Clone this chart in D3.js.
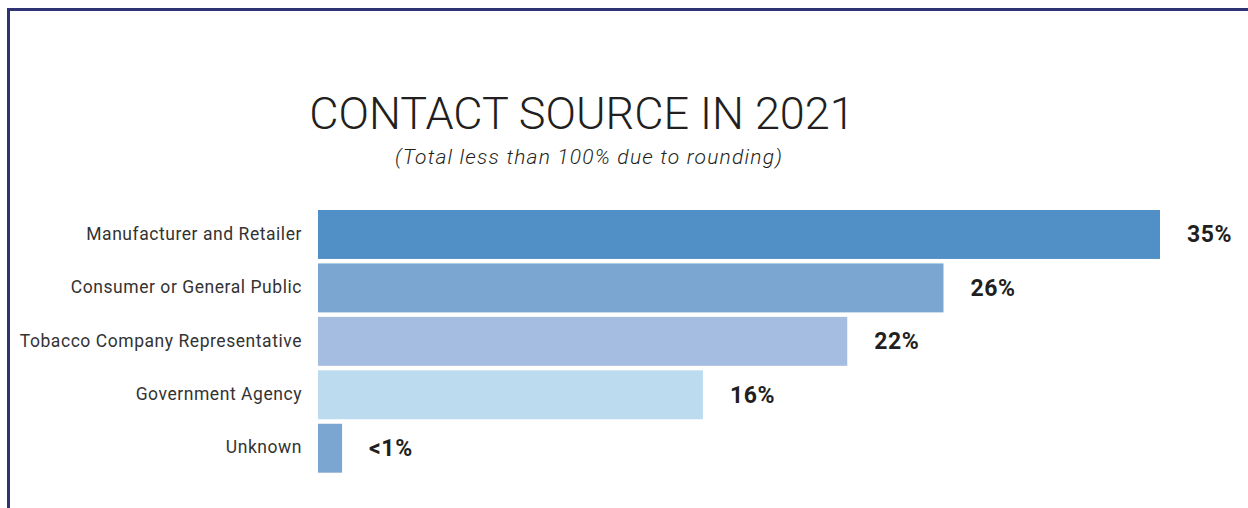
<!DOCTYPE html>
<html>
<head>
<meta charset="utf-8">
<script src="https://cdn.jsdelivr.net/npm/d3@7"></script>
<style>
  html, body { margin: 0; padding: 0; background: #fff; }
  svg { display: block; }
</style>
</head>
<body>
<svg width="1248" height="508"></svg>
<script>
const categories = [
  "Manufacturer and Retailer",
  "Consumer or General Public",
  "Tobacco Company Representative",
  "Government Agency",
  "Unknown"
];
const values = [35, 26, 22, 16, 1];
const valueLabels = ["35%", "26%", "22%", "16%", "<1%"];
const barColors = ["#5190c7", "#7ba6d1", "#a5bde0", "#bddbef", "#7ba6d1"];

const title = "CONTACT SOURCE IN 2021";
const subtitle = "(Total less than 100% due to rounding)";

const width = 1248;
const height = 508;
const font = "Roboto, 'Noto Sans', sans-serif";

const svg = d3.select("svg");

// frame (top + left rule)
svg.append("path")
  .attr("d", `M8.5,${height} L8.5,9.5 L${width},9.5`)
  .attr("fill", "none")
  .attr("stroke", "#2d3373")
  .attr("stroke-width", 3);

// title
svg.append("text")
  .attr("x", 582)
  .attr("y", 129)
  .attr("text-anchor", "middle")
  .attr("font-family", font)
  .attr("font-weight", 300)
  .attr("font-size", 45)
  .attr("fill", "#231f20")
  .text(title);

svg.append("text")
  .attr("x", 589)
  .attr("y", 164)
  .attr("text-anchor", "middle")
  .attr("font-family", font)
  .attr("font-weight", 300)
  .attr("font-style", "italic")
  .attr("font-size", 21)
  .attr("letter-spacing", 1.2)
  .attr("fill", "#231f20")
  .text(subtitle);

// scales
const x = d3.scaleLinear()
  .domain([0, 35])
  .range([318, 1160]);

const y = d3.scaleBand()
  .domain(categories)
  .range([210, 472.7])
  .paddingInner(0.084)
  .paddingOuter(0);

// bars
svg.selectAll("rect.bar")
  .data(values)
  .enter()
  .append("rect")
  .attr("class", "bar")
  .attr("x", x(0))
  .attr("y", (d, i) => y(categories[i]))
  .attr("width", d => x(d) - x(0))
  .attr("height", y.bandwidth())
  .attr("fill", (d, i) => barColors[i]);

// value labels
svg.selectAll("text.value")
  .data(values)
  .enter()
  .append("text")
  .attr("class", "value")
  .attr("x", d => x(d) + 27)
  .attr("y", (d, i) => y(categories[i]) + y.bandwidth() / 2 + 8)
  .attr("font-family", font)
  .attr("font-weight", 700)
  .attr("font-size", 23)
  .attr("letter-spacing", 0.6)
  .attr("fill", "#231f20")
  .text((d, i) => valueLabels[i]);

// category axis
const yAxis = d3.axisLeft(y).tickSize(0).tickPadding(16);
const gy = svg.append("g")
  .attr("transform", `translate(${x(0)},0)`)
  .call(yAxis);
gy.select(".domain").remove();
gy.selectAll("text")
  .attr("font-family", font)
  .attr("font-size", 17.5)
  .attr("letter-spacing", 0.55)
  .attr("fill", "#333")
  .attr("dy", "0.3em");
</script>
</body>
</html>
